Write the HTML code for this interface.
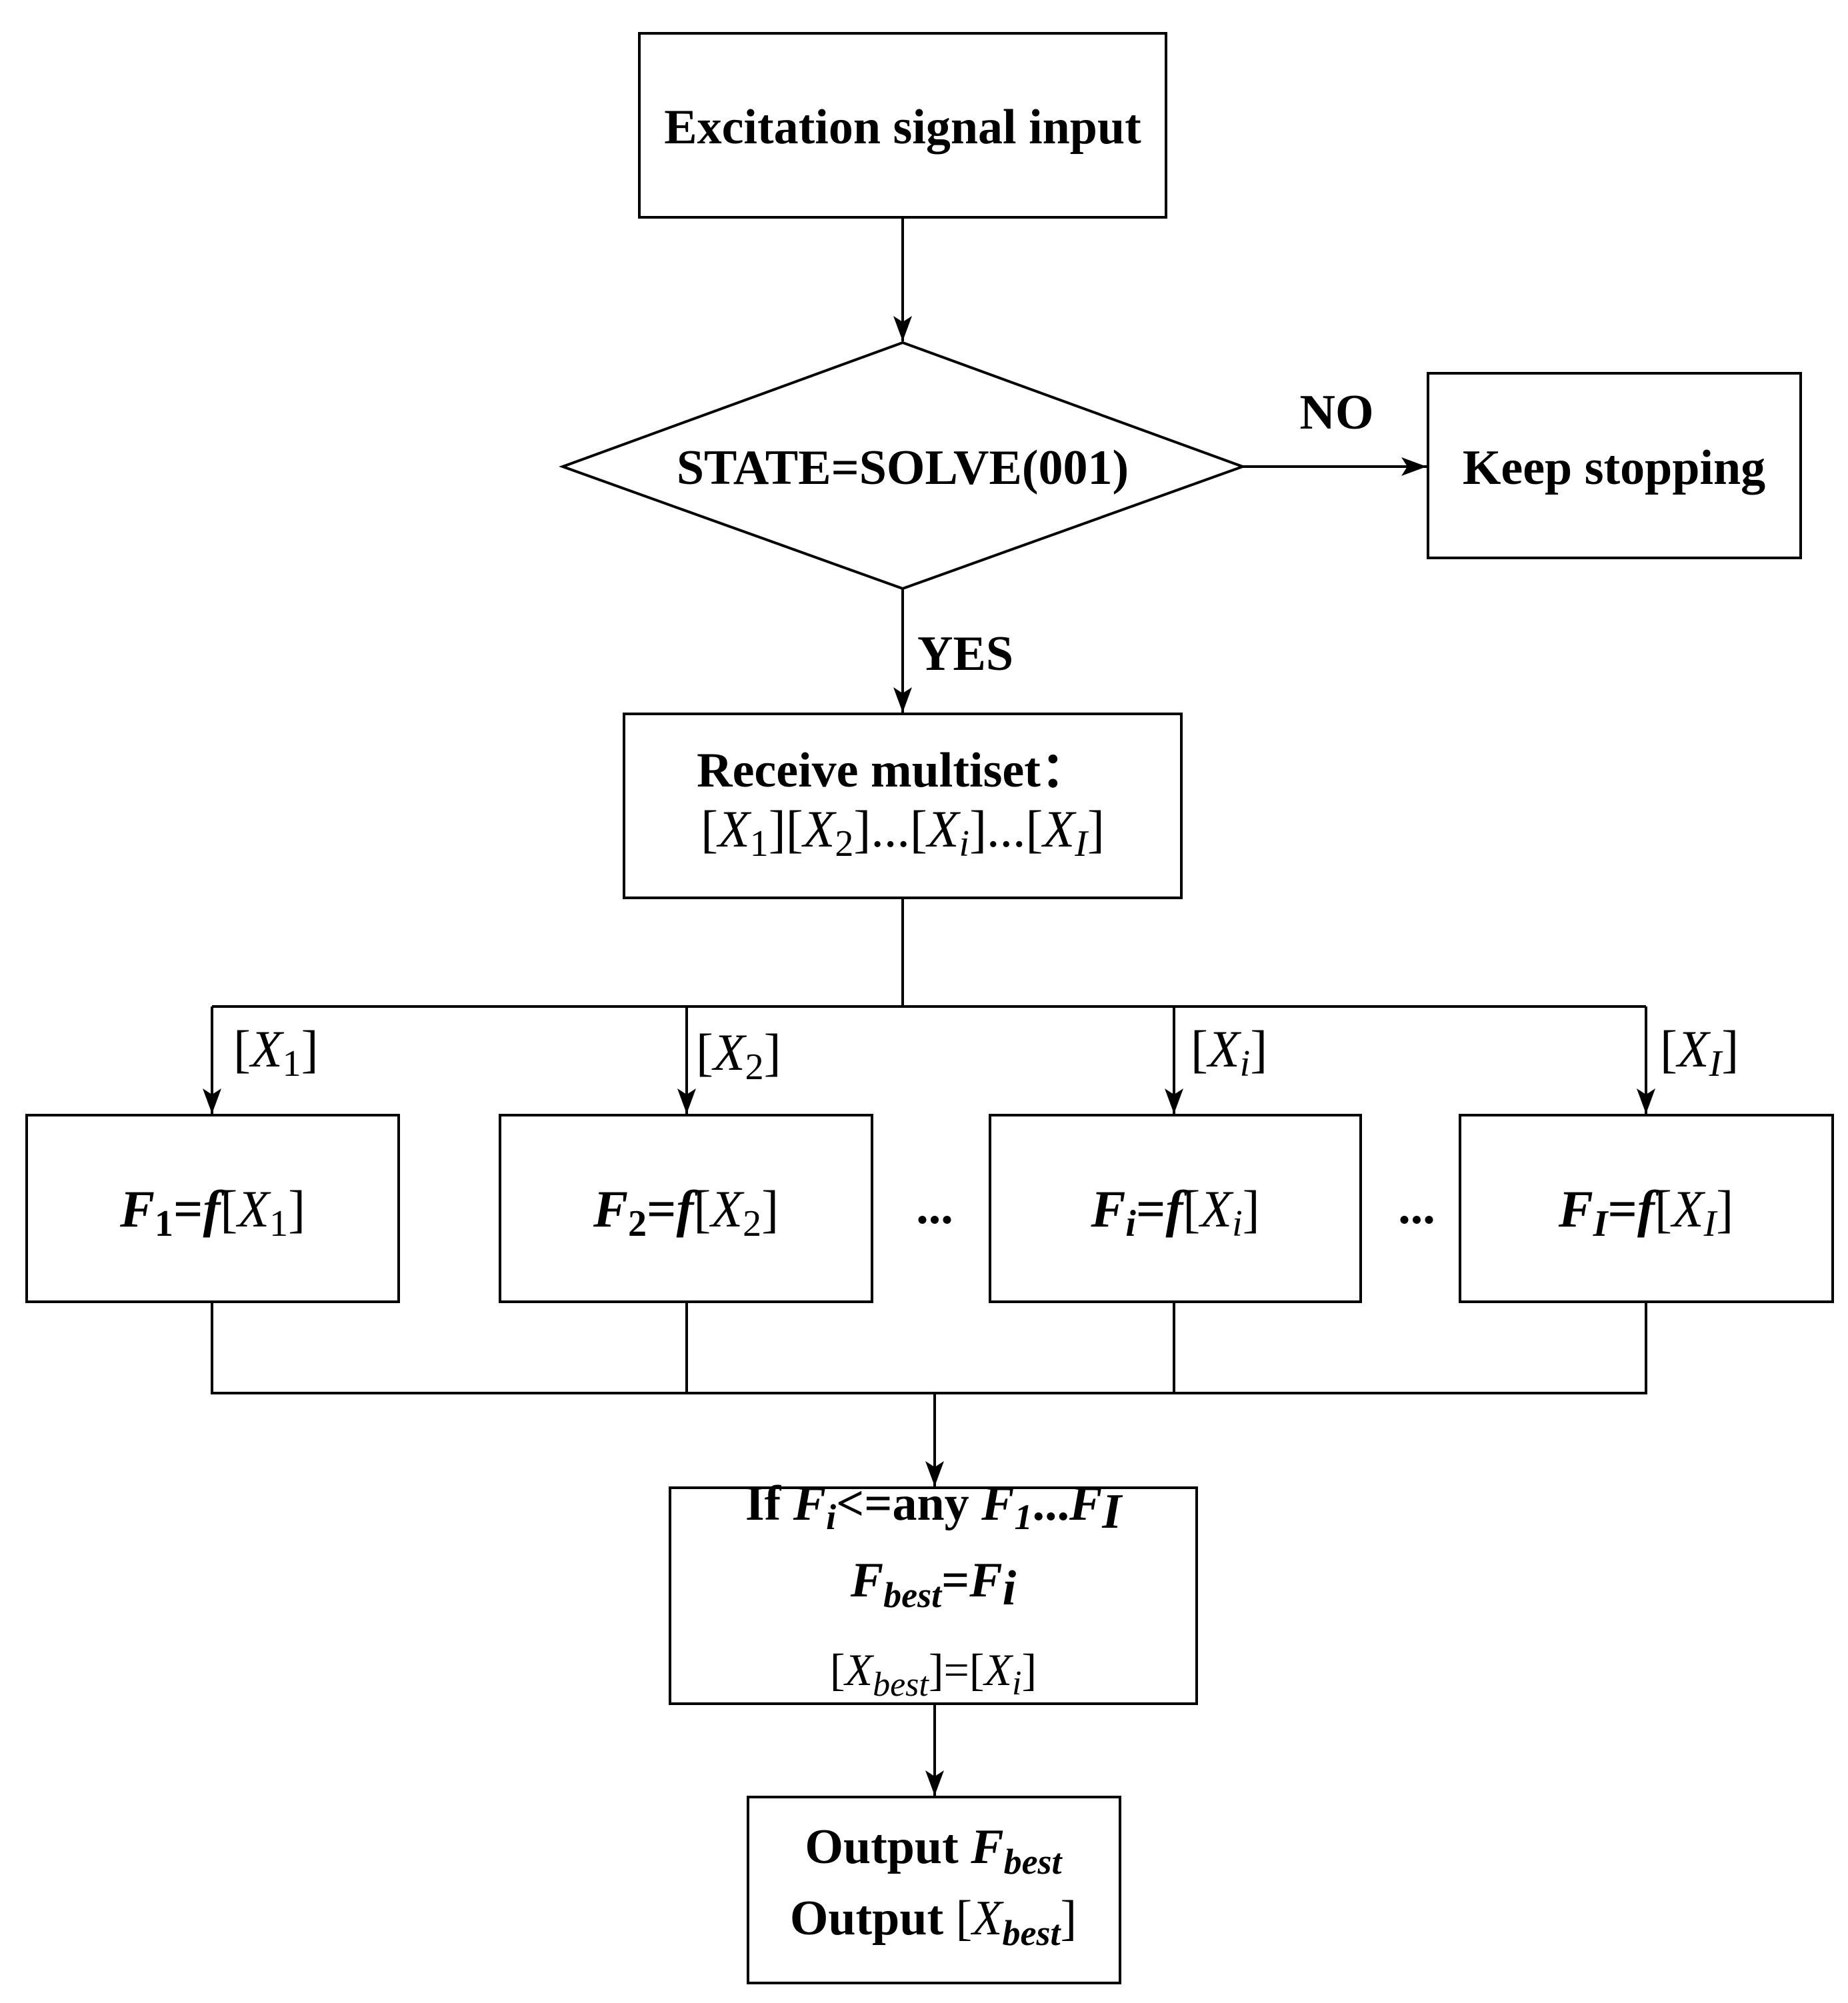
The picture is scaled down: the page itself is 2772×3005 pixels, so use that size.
<!DOCTYPE html>
<html><head><style>html,body{margin:0;padding:0;background:#fff}</style></head><body>
<svg width="2772" height="3000" viewBox="0 0 2772 3000" xmlns="http://www.w3.org/2000/svg" font-family="Liberation Serif, serif" font-weight="bold" font-size="74">
<defs><marker id="b" markerWidth="40" markerHeight="40" refX="38" refY="14" orient="auto" markerUnits="userSpaceOnUse"><path d="M0,0 L38,14 L0,28 L9,14z" fill="#000"/></marker></defs>
<g fill="none" stroke="#000" stroke-width="4">
<rect x="959" y="50" width="790" height="276"/>
<polygon points="844,700 1354,514 1864,700 1354,883"/>
<rect x="2142" y="560" width="559" height="277"/>
<rect x="936" y="1071" width="836" height="276"/>
<rect x="40" y="1673" width="558" height="280"/>
<rect x="750" y="1673" width="558" height="280"/>
<rect x="1485" y="1673" width="556" height="280"/>
<rect x="2190" y="1673" width="559" height="280"/>
<rect x="1005" y="2232" width="790" height="324"/>
<rect x="1122" y="2696" width="558" height="279"/>
<path d="M1354,326 V512" marker-end="url(#b)"/>
<path d="M1864,700 H2140" marker-end="url(#b)"/>
<path d="M1354,883 V1069" marker-end="url(#b)"/>
<path d="M1354,1347 V1510 M318,1510 H2469"/>
<path d="M318,1510 V1671" marker-end="url(#b)"/>
<path d="M1030,1510 V1671" marker-end="url(#b)"/>
<path d="M1761,1510 V1671" marker-end="url(#b)"/>
<path d="M2469,1510 V1671" marker-end="url(#b)"/>
<path d="M318,1953 V2090 H2469 V1953 M1030,1953 V2090 M1761,1953 V2090"/>
<path d="M1402,2090 V2230" marker-end="url(#b)"/>
<path d="M1402,2556 V2694" marker-end="url(#b)"/>
</g>
<g text-anchor="middle">
<text x="1354" y="215">Excitation signal input</text>
<text x="1354" y="726">STATE=SOLVE(001)</text>
<text x="2421" y="726">Keep stopping</text>
<text x="2005" y="643">NO</text>
<text x="1448" y="1005">YES</text>
<text x="1340" y="1180">Receive multiset：</text>
<text x="1354" y="1270" font-weight="normal" font-size="78">[<tspan font-style="italic">X</tspan><tspan font-size="56" dy="14">1</tspan><tspan dy="-14">][</tspan><tspan font-style="italic">X</tspan><tspan font-size="56" dy="14">2</tspan><tspan dy="-14">]...[</tspan><tspan font-style="italic">X</tspan><tspan font-size="56" font-style="italic" dy="14">i</tspan><tspan dy="-14">]...[</tspan><tspan font-style="italic">X</tspan><tspan font-size="56" font-style="italic" dy="14">I</tspan><tspan dy="-14">]</tspan></text>
<g font-size="78">
<text x="319" y="1840"><tspan font-style="italic">F</tspan><tspan font-size="56" dy="14">1</tspan><tspan dy="-14">=</tspan><tspan font-style="italic">f</tspan><tspan font-weight="normal">[<tspan font-style="italic">X</tspan><tspan font-size="56" dy="14">1</tspan><tspan dy="-14">]</tspan></tspan></text>
<text x="1029" y="1840"><tspan font-style="italic">F</tspan><tspan font-size="56" dy="14">2</tspan><tspan dy="-14">=</tspan><tspan font-style="italic">f</tspan><tspan font-weight="normal">[<tspan font-style="italic">X</tspan><tspan font-size="56" dy="14">2</tspan><tspan dy="-14">]</tspan></tspan></text>
<text x="1763" y="1840"><tspan font-style="italic">F</tspan><tspan font-size="56" font-style="italic" dy="14">i</tspan><tspan dy="-14">=</tspan><tspan font-style="italic">f</tspan><tspan font-weight="normal">[<tspan font-style="italic">X</tspan><tspan font-size="56" font-style="italic" dy="14">i</tspan><tspan dy="-14">]</tspan></tspan></text>
<text x="2469" y="1840"><tspan font-style="italic">F</tspan><tspan font-size="56" font-style="italic" dy="14">I</tspan><tspan dy="-14">=</tspan><tspan font-style="italic">f</tspan><tspan font-weight="normal">[<tspan font-style="italic">X</tspan><tspan font-size="56" font-style="italic" dy="14">I</tspan><tspan dy="-14">]</tspan></tspan></text>
</g>
<text x="1402" y="1835">...</text>
<text x="2125" y="1835">...</text>
</g>
<g font-weight="normal" font-size="78">
<text x="350" y="1600">[<tspan font-style="italic">X</tspan><tspan font-size="56" dy="14">1</tspan><tspan dy="-14">]</tspan></text>
<text x="1044" y="1605">[<tspan font-style="italic">X</tspan><tspan font-size="56" dy="14">2</tspan><tspan dy="-14">]</tspan></text>
<text x="1786" y="1600">[<tspan font-style="italic">X</tspan><tspan font-size="56" font-style="italic" dy="14">i</tspan><tspan dy="-14">]</tspan></text>
<text x="2490" y="1600">[<tspan font-style="italic">X</tspan><tspan font-size="56" font-style="italic" dy="14">I</tspan><tspan dy="-14">]</tspan></text>
</g>
<g text-anchor="middle">
<text x="1400" y="2280">If <tspan font-style="italic">F</tspan><tspan font-size="54" font-style="italic" dy="14">i</tspan><tspan dy="-14">&lt;=any </tspan><tspan font-style="italic">F</tspan><tspan font-size="54" font-style="italic" dy="14">1</tspan><tspan dy="-14">...</tspan><tspan font-style="italic">F</tspan><tspan font-style="italic" dy="12">I</tspan></text>
<text x="1400" y="2395"><tspan font-style="italic">F</tspan><tspan font-size="54" font-style="italic" dy="16">best</tspan><tspan dy="-16">=</tspan><tspan font-style="italic">F</tspan><tspan font-style="italic" dy="12">i</tspan></text>
<text x="1400" y="2528" font-weight="normal" font-size="68">[<tspan font-style="italic">X</tspan><tspan font-size="52" font-style="italic" dy="16">best</tspan><tspan dy="-16">]=[</tspan><tspan font-style="italic">X</tspan><tspan font-size="52" font-style="italic" dy="14">i</tspan><tspan dy="-14">]</tspan></text>
<text x="1400" y="2795">Output <tspan font-style="italic">F</tspan><tspan font-size="54" font-style="italic" dy="16">best</tspan></text>
<text x="1400" y="2902">Output <tspan font-weight="normal">[</tspan><tspan font-style="italic" font-weight="normal">X</tspan><tspan font-size="54" font-style="italic" dy="16">best</tspan><tspan dy="-16" font-weight="normal">]</tspan></text>
</g>
</svg>
</body></html>
